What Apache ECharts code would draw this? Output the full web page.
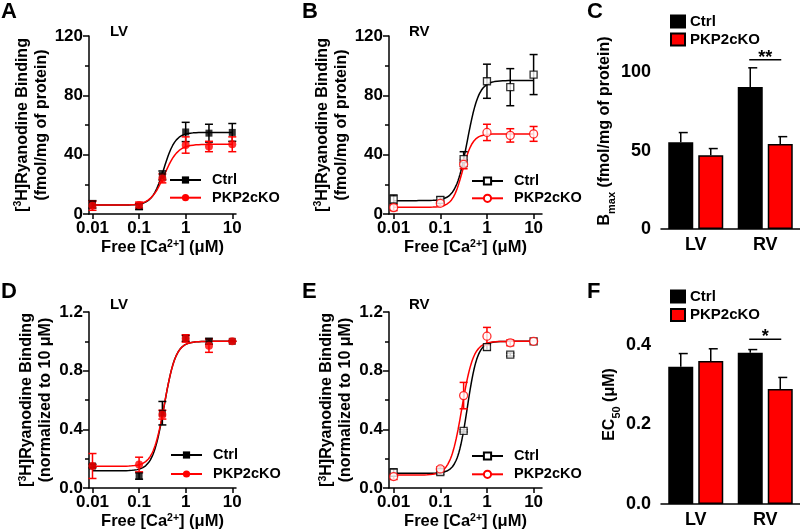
<!DOCTYPE html>
<html><head><meta charset="utf-8">
<script src="https://cdn.jsdelivr.net/npm/echarts@6/dist/echarts.min.js"></script>
<style>html,body{margin:0;padding:0;background:#fff}#c{width:800px;height:531px}</style>
</head><body><div id="c"></div>
<script>
const FF = "'Liberation Sans', Arial, sans-serif";
// ---------- data ----------
const conc = [0.01, 0.1, 0.316, 1, 3.16, 10];   // free Ca2+ (uM)
const xTicks = [0.01, 0.1, 1, 10];
const groups = ['Ctrl', 'PKP2cKO'];
const barCats = ['LV', 'RV'];

// Panel A: LV, fmol/mg
const aCtrl = [6.5, 5, 26, 55.3, 54.5, 55];
const aCtrlErr = [2.5, 2, 3, 6.5, 6, 6];
const aKo = [5.5, 6, 24, 46.5, 45.5, 47];
const aKoErr = [3, 2, 3, 5.5, 3.5, 5];
const aCtrlFit = [6, 55, 0.34, 3.5];   // bottom, top, EC50, Hill
const aKoFit = [6, 47, 0.35, 3];

// Panel B: RV, fmol/mg
const bCtrl = [9.8, 9.5, 37, 89.5, 85.5, 94];
const bCtrlErr = [3, 2, 5, 11.5, 12.5, 13.5];
const bKo = [4.3, 7.2, 33.5, 55, 53, 54];
const bKoErr = [2, 1.5, 3, 5.5, 4.5, 5];
const bCtrlFit = [9, 90, 0.38, 3.5];
const bKoFit = [4.5, 54, 0.30, 4];

// Panel D: LV normalized
const dCtrl = [0.15, 0.082, 0.51, 1.02, 1.0, 1.0];
const dCtrlErr = [0.012, 0.022, 0.08, 0.02, 0.02, 0];
const dKo = [0.15, 0.16, 0.5, 1.02, 0.97, 1.0];
const dKoErr = [0.085, 0.05, 0.03, 0.025, 0.045, 0];
const dCtrlFit = [0.117, 1.0, 0.345, 3.5];
const dKoFit = [0.148, 1.0, 0.35, 3.5];

// Panel E: RV normalized
const eCtrl = [0.105, 0.108, 0.39, 0.96, 0.91, 1.0];
const eCtrlErr = [0.025, 0.015, 0.008, 0.02, 0.01, 0];
const eKo = [0.078, 0.13, 0.63, 1.035, 0.99, 1.0];
const eKoErr = [0.02, 0.015, 0.09, 0.06, 0.02, 0];
const eCtrlFit = [0.1, 1.0, 0.38, 4];
const eKoFit = [0.088, 1.0, 0.29, 3.5];

// Panel C: Bmax
const cCtrl = [55.3, 90.5];
const cCtrlErr = [6.2, 12.3];
const cKo = [47.0, 54.2];
const cKoErr = [4.3, 4.7];
const cSigCat = [1];
const cSigY = [108];
const cSigText = ['**'];

// Panel F: EC50
const fCtrl = [0.345, 0.380];
const fCtrlErr = [0.033, 0.008];
const fKo = [0.359, 0.289];
const fKoErr = [0.031, 0.029];
const fSigCat = [1];
const fSigY = [0.414];
const fSigText = ['*'];

// ---------- helpers ----------
const black = '#000', red = '#ff0000';
const txt = {fontFamily: FF, fontWeight: 'bold', color: '#000'};
const rich = {
  sup: {fontFamily: FF, fontWeight: 'bold', fontSize: 10.5, lineHeight: 11, verticalAlign: 'top', color: '#000'},
  sub: {fontFamily: FF, fontWeight: 'bold', fontSize: 11, lineHeight: 11, verticalAlign: 'bottom', color: '#000'}
};
const axLine = {lineStyle: {color: '#000', width: 1.5}, onZero: false};
const tickStyle = {color: '#000', width: 1.5};

function hill(p, x) { return p[0] + (p[1] - p[0]) / (1 + Math.pow(p[2] / x, p[3])); }
function curve(p) {
  const pts = [];
  const lo = Math.log10(conc[0]), hi = Math.log10(conc[conc.length - 1]);
  for (let i = 0; i <= 150; i++) { const lx = lo + (hi - lo) * i / 150; pts.push([lx, hill(p, Math.pow(10, lx))]); }
  return pts;
}
function xLog(gi, min, max) {
  const tv = xTicks.map(Math.log10);
  return {type: 'value', gridIndex: gi, min, max, axisLine: axLine, splitLine: {show: false},
    axisTick: {show: true, customValues: tv, length: 5, lineStyle: tickStyle},
    axisLabel: {customValues: tv, formatter: v => String(+Math.pow(10, v).toPrecision(1)), margin: 6, ...txt, fontSize: 17},
    name: 'Free [Ca{sup|2+}] (μM)', nameLocation: 'middle', nameGap: 25,
    nameTextStyle: {...txt, fontSize: 16.5, rich}};
}
function yCurve(gi, max, interval, fmt, name) {
  return {type: 'value', gridIndex: gi, min: 0, max, interval, axisLine: axLine, splitLine: {show: false},
    axisTick: {length: 6, lineStyle: tickStyle},
    minorTick: {show: true, splitNumber: 2, length: 4, lineStyle: tickStyle},
    axisLabel: {...txt, fontSize: 17, margin: 6, formatter: fmt},
    name, nameLocation: 'middle', nameGap: 29,
    nameTextStyle: {...txt, fontSize: 16, lineHeight: 19, rich}};
}
function yBar(gi, max, majors, fmt, name) {
  return {type: 'value', gridIndex: gi, position: 'left', min: 0, max, axisLine: axLine, splitLine: {show: false},
    axisTick: {customValues: majors, length: 6, lineStyle: tickStyle},
    axisLabel: {customValues: majors, formatter: fmt, ...txt, fontSize: 18, margin: 10},
    name, nameLocation: 'middle', nameGap: 31,
    nameTextStyle: {...txt, fontSize: 16, lineHeight: 24, rich}};
}
function yBarMinor(gi, max, minors) {
  return {type: 'value', gridIndex: gi, position: 'left', min: 0, max, axisLine: {show: false}, splitLine: {show: false},
    axisLabel: {show: false}, axisTick: {customValues: minors, length: 4, lineStyle: tickStyle}};
}
function xBar(gi) {
  return {type: 'category', gridIndex: gi, data: barCats, axisLine: axLine, axisTick: {show: false},
    axisLabel: {...txt, fontSize: 18, margin: 7}};
}
function curveSeries(name, ai, fit, color, symbol, open) {
  return {type: 'line', name, xAxisIndex: ai, yAxisIndex: ai, data: curve(fit), showSymbol: false, symbol,
    symbolSize: 7, smooth: false, silent: true, z: 2, lineStyle: {color, width: 1.5},
    itemStyle: open ? {color: '#fff', borderColor: color, borderWidth: 1.3} : {color}};
}
function errSeries(ai, ys, es, color) {
  return {type: 'custom', xAxisIndex: ai, yAxisIndex: ai, silent: true, z: 3,
    data: conc.map((c, i) => [Math.log10(c), ys[i], es[i]]),
    renderItem: (p, api) => {
      const x = api.value(0), y = api.value(1), e = api.value(2);
      const t = api.coord([x, y + e]), b = api.coord([x, y - e]);
      const w = 4, st = {stroke: color, lineWidth: 1.5};
      return {type: 'group', children: [
        {type: 'line', shape: {x1: t[0], y1: t[1], x2: b[0], y2: b[1]}, style: st},
        {type: 'line', shape: {x1: t[0] - w, y1: t[1], x2: t[0] + w, y2: t[1]}, style: st},
        {type: 'line', shape: {x1: b[0] - w, y1: b[1], x2: b[0] + w, y2: b[1]}, style: st}]};
    }};
}
function ptSeries(ai, ys, color, symbol, size, open) {
  return {type: 'scatter', xAxisIndex: ai, yAxisIndex: ai, silent: true, z: 4, symbol, symbolSize: size,
    data: conc.map((c, i) => [Math.log10(c), ys[i]]),
    itemStyle: open ? {color: '#fff', borderColor: color, borderWidth: 1.3} : {color}};
}
const BW = 25, BOFF = 15;
function barSeries(name, ai, ys, color) {
  return {type: 'bar', name, xAxisIndex: ai, yAxisIndex: ai, data: ys, barWidth: BW, barGap: '20%', silent: true,
    itemStyle: {color, borderColor: '#000', borderWidth: 1.5}};
}
function barErr(ai, ys, es, sign) {
  return {type: 'custom', xAxisIndex: ai, yAxisIndex: ai, silent: true, z: 3,
    data: ys.map((v, i) => [i, v, es[i]]),
    renderItem: (p, api) => {
      const c = api.coord([api.value(0), api.value(1)]);
      const t = api.coord([api.value(0), api.value(1) + api.value(2)]);
      const x = c[0] + sign * BOFF, st = {stroke: '#000', lineWidth: 1.5};
      return {type: 'group', children: [
        {type: 'line', shape: {x1: x, y1: c[1], x2: x, y2: t[1]}, style: st},
        {type: 'line', shape: {x1: x - 2, y1: t[1], x2: x + 7, y2: t[1]}, style: st}]};
    }};
}
function sigSeries(ai, cats, ys, texts) {
  return {type: 'custom', xAxisIndex: ai, yAxisIndex: ai, silent: true, z: 5,
    data: cats.map((c, i) => [c, ys[i]]),
    renderItem: (p, api) => {
      const c = api.coord([api.value(0), api.value(1)]);
      return {type: 'group', children: [
        {type: 'line', shape: {x1: c[0] - BOFF - 1, y1: c[1], x2: c[0] + BOFF + 1, y2: c[1]}, style: {stroke: '#000', lineWidth: 1.5}},
        {type: 'text', x: c[0], y: c[1] - 2, style: {text: texts[p.dataIndex], fill: '#000', font: 'bold 18px ' + FF, align: 'center', verticalAlign: 'middle'}}]};
    }};
}
function lineLegend(key, left, top, gap) {
  return {left, top, orient: 'vertical', padding: 0, itemGap: gap, itemWidth: 31, itemHeight: 9, selectedMode: false,
    data: groups.map(g => g + '|' + key), formatter: n => n.split('|')[0],
    textStyle: {...txt, fontSize: 14.5, lineHeight: 16, padding: [0, 0, 0, 6]}};
}
function barLegend(key, left, top, gap) {
  return {left, top, orient: 'vertical', padding: 0, itemGap: gap, itemWidth: 14, itemHeight: 12, icon: 'rect', selectedMode: false,
    data: groups.map(g => g + '|' + key), formatter: n => n.split('|')[0],
    textStyle: {...txt, fontSize: 15, lineHeight: 14}};
}
function ttl(text, left, top, size) {
  return {text, left, top, padding: 0, textStyle: {...txt, fontSize: size}};
}
const fmt0 = v => String(v);
const fmt1 = v => v.toFixed(1);
const nameFmol = '[{sup|3}H]Ryanodine Binding\n(fmol/mg of protein)';
const nameNorm = '[{sup|3}H]Ryanodine Binding\n(normalized to 10 μM)';

const option = {
  animation: false,
  backgroundColor: '#fff',
  title: [
    ttl('A', 1, 1, 22), ttl('B', 302, 1, 22), ttl('C', 587, 1, 22),
    ttl('D', 1, 281, 22), ttl('E', 302, 281, 22), ttl('F', 587, 281, 22),
    ttl('LV', 110, 24, 15), ttl('RV', 409, 24, 15),
    ttl('LV', 110, 297, 15), ttl('RV', 409, 297, 15)
  ],
  grid: [
    {left: 89, right: 564, top: 36, bottom: 317},
    {left: 389, right: 258, top: 36, bottom: 317},
    {left: 661, right: 0, top: 33, bottom: 302},
    {left: 89, right: 564, top: 312, bottom: 42},
    {left: 389, right: 258, top: 312, bottom: 42},
    {left: 661, right: 0, top: 305, bottom: 27}
  ],
  xAxis: [
    xLog(0, -2.075, 1.08), xLog(1, -2.1, 1.18), xBar(2),
    xLog(3, -2.075, 1.08), xLog(4, -2.1, 1.18), xBar(5)
  ],
  yAxis: [
    yCurve(0, 120, 40, fmt0, nameFmol),
    yCurve(1, 120, 40, fmt0, nameFmol),
    yBar(2, 125, [0, 50, 100], fmt0, 'B{sub|max} (fmol/mg of protein)'),
    yCurve(3, 1.2, 0.4, fmt1, nameNorm),
    yCurve(4, 1.2, 0.4, fmt1, nameNorm),
    yBar(5, 0.5, [0, 0.2, 0.4], fmt1, 'EC{sub|50} (μM)'),
    yBarMinor(2, 125, [25, 75, 125]),
    yBarMinor(5, 0.5, [0.1, 0.3, 0.5])
  ],
  legend: [
    lineLegend('A', 169, 172, 1.7),
    lineLegend('B', 471, 173, 1.3),
    barLegend('C', 670, 14, 3),
    lineLegend('D', 170, 447, 3),
    lineLegend('E', 471, 448, 2.3),
    barLegend('F', 670, 289, 3.5)
  ],
  series: [
    // A
    curveSeries('Ctrl|A', 0, aCtrlFit, black, 'rect', false),
    curveSeries('PKP2cKO|A', 0, aKoFit, red, 'circle', false),
    errSeries(0, aCtrl, aCtrlErr, black), errSeries(0, aKo, aKoErr, red),
    ptSeries(0, aCtrl, black, 'rect', 7, false), ptSeries(0, aKo, red, 'circle', 8, false),
    // B
    curveSeries('Ctrl|B', 1, bCtrlFit, black, 'rect', true),
    curveSeries('PKP2cKO|B', 1, bKoFit, red, 'circle', true),
    errSeries(1, bCtrl, bCtrlErr, black), errSeries(1, bKo, bKoErr, red),
    ptSeries(1, bCtrl, black, 'rect', 7, true), ptSeries(1, bKo, red, 'circle', 8, true),
    // C
    barSeries('Ctrl|C', 2, cCtrl, black), barSeries('PKP2cKO|C', 2, cKo, red),
    barErr(2, cCtrl, cCtrlErr, -1), barErr(2, cKo, cKoErr, 1),
    sigSeries(2, cSigCat, cSigY, cSigText),
    // D
    curveSeries('Ctrl|D', 3, dCtrlFit, black, 'rect', false),
    curveSeries('PKP2cKO|D', 3, dKoFit, red, 'circle', false),
    errSeries(3, dCtrl, dCtrlErr, black), errSeries(3, dKo, dKoErr, red),
    ptSeries(3, dCtrl, black, 'rect', 7, false), ptSeries(3, dKo, red, 'circle', 8, false),
    // E
    curveSeries('Ctrl|E', 4, eCtrlFit, black, 'rect', true),
    curveSeries('PKP2cKO|E', 4, eKoFit, red, 'circle', true),
    errSeries(4, eCtrl, eCtrlErr, black), errSeries(4, eKo, eKoErr, red),
    ptSeries(4, eCtrl, black, 'rect', 7, true), ptSeries(4, eKo, red, 'circle', 8, true),
    // F
    barSeries('Ctrl|F', 5, fCtrl, black), barSeries('PKP2cKO|F', 5, fKo, red),
    barErr(5, fCtrl, fCtrlErr, -1), barErr(5, fKo, fKoErr, 1),
    sigSeries(5, fSigCat, fSigY, fSigText)
  ]
};
const chart = echarts.init(document.getElementById('c'), null, {renderer: 'canvas'});
chart.setOption(option);
</script></body></html>
